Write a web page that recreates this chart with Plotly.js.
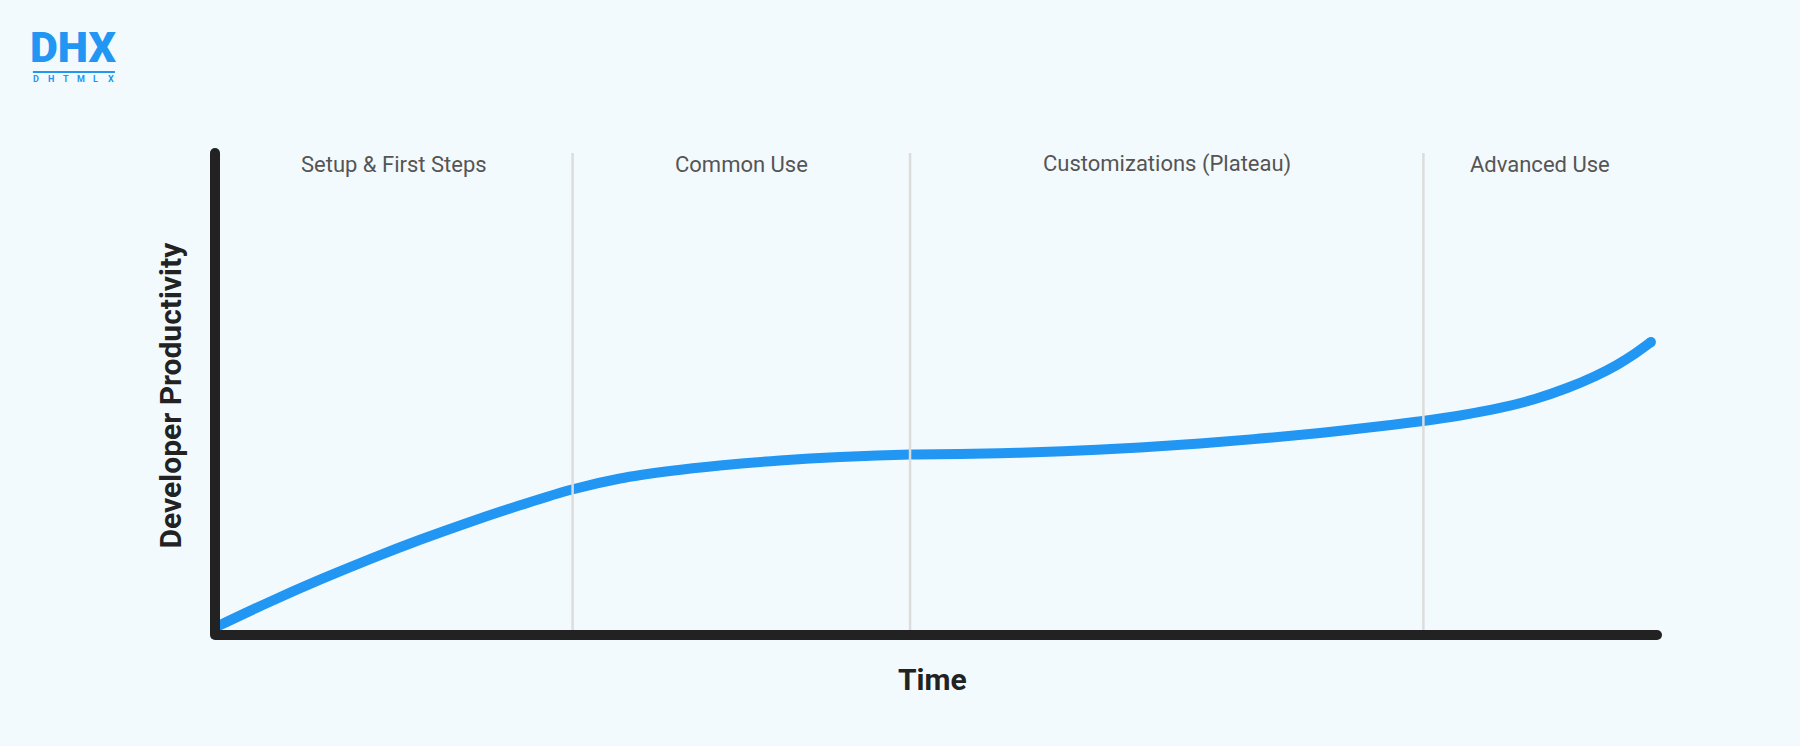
<!DOCTYPE html>
<html>
<head>
<meta charset="utf-8">
<script src="https://cdn.plot.ly/plotly-3.0.1.min.js"></script>
<style>
  html, body { margin: 0; padding: 0; background: #F3FAFE; }
  #chart { width: 1800px; height: 746px; }
</style>
</head>
<body>
<div id="chart"></div>
<script>
// ---- Data ----
const timeX = [0.07, 3.81, 7.28, 10.75, 14.22, 17.68, 21.15, 24.76, 28.09, 31.55, 35.02, 39.18, 43.34, 48.20,
               51.66, 55.83, 59.99, 64.15, 68.31, 72.47, 76.63, 80.79, 83.77, 86.34, 89.11, 91.54, 93.76,
               95.70, 97.23, 98.47, 99.58];
const productivityY = [1.66, 6.91, 11.47, 15.75, 19.75, 23.46, 26.91, 30.19, 32.47, 34.02, 35.17, 36.20, 36.93, 37.45,
                       37.53, 37.82, 38.28, 38.92, 39.73, 40.75, 41.93, 43.30, 44.40, 45.54, 47.10, 48.96, 51.24,
                       53.69, 56.06, 58.38, 60.77];
const stageBounds = [0, 24.8, 48.2, 83.8, 100];
const stageLabels = ["Setup & First Steps", "Common Use", "Customizations (Plateau)", "Advanced Use"];
const axisMax = 100;
const xTitle = "Time";
const yTitle = "Developer Productivity";
const logoText = "DHX";
const logoSub = ["D", "H", "T", "M", "L", "X"];

// ---- Styles ----
const BLUE = "#2196F3";
const AXIS = "#222222";
const DIVIDER = "#DCDCDC";
const BG = "#F3FAFE";

const curve = {
  x: timeX,
  y: productivityY,
  type: "scatter",
  mode: "lines",
  line: { color: BLUE, width: 10, shape: "spline", smoothing: 1 },
  hoverinfo: "skip",
  showlegend: false
};

// Round cap at the curve's end
const curveCap = {
  x: [timeX[timeX.length - 1]],
  y: [productivityY[productivityY.length - 1]],
  type: "scatter",
  mode: "markers",
  marker: { color: BLUE, size: 10, opacity: 1, line: { width: 0 } },
  hoverinfo: "skip",
  showlegend: false
};

// Round caps for the axis lines
const caps = {
  x: [0, axisMax, 0],
  y: [0, 0, axisMax],
  type: "scatter",
  mode: "markers",
  marker: { color: AXIS, size: 10, line: { width: 0 } },
  hoverinfo: "skip",
  showlegend: false,
  cliponaxis: false
};

const shapes = [];
// dividers
stageBounds.slice(1, -1).forEach(b => {
  shapes.push({ type: "line", xref: "x", yref: "paper", x0: b, x1: b, y0: 0, y1: 1,
    line: { color: DIVIDER, width: 2.5 }, layer: "above" });
});
// axes
shapes.push({ type: "line", xref: "paper", yref: "paper", x0: 0, x1: 1, y0: 0, y1: 0,
  line: { color: AXIS, width: 10 }, layer: "above" });
shapes.push({ type: "line", xref: "paper", yref: "paper", x0: 0, x1: 0, y0: 0, y1: 1,
  line: { color: AXIS, width: 10 }, layer: "above" });
// logo underline
shapes.push({ type: "line", xref: "paper", yref: "paper", x0: -0.1263, x1: -0.0694, y0: 1.168, y1: 1.168,
  line: { color: BLUE, width: 2 } });

const annotations = stageLabels.map((t, i) => ({
  text: t,
  x: (stageBounds[i] + stageBounds[i + 1]) / 2,
  xref: "x",
  y: 0.977, yref: "paper",
  xanchor: "center", yanchor: "middle",
  showarrow: false,
  font: { family: "Roboto", size: 22, color: "#555555" }
}));
annotations.push({
  text: xTitle, x: 0.4975, xref: "paper", y: -0.092, yref: "paper",
  xanchor: "center", yanchor: "middle", showarrow: false,
  font: { family: "Roboto", size: 30, color: AXIS, weight: "bold" }
});
annotations.push({
  text: yTitle, x: -0.0312, xref: "paper", y: 0.497, yref: "paper",
  xanchor: "center", yanchor: "middle", showarrow: false, textangle: -90,
  font: { family: "Roboto", size: 30, color: AXIS, weight: "bold" }
});
// logo
annotations.push({
  text: logoText, x: -0.0985, xref: "paper", y: 1.219, yref: "paper",
  xanchor: "center", yanchor: "middle", showarrow: false,
  font: { family: "Roboto", size: 43, color: BLUE, weight: 900 }
});
logoSub.forEach((ch, i) => {
  annotations.push({
    text: ch, x: (36 + i * 15 - 215) / 1442, xref: "paper", y: 1.1535, yref: "paper",
    xanchor: "center", yanchor: "middle", showarrow: false,
    font: { family: "Roboto", size: 9, color: BLUE, weight: "bold" }
  });
});

const layout = {
  width: 1800, height: 746,
  paper_bgcolor: BG, plot_bgcolor: BG,
  margin: { l: 215, r: 143, t: 153, b: 111 },
  xaxis: { range: [0, axisMax], showgrid: false, zeroline: false, showline: false, showticklabels: false, ticks: "", fixedrange: true },
  yaxis: { range: [0, axisMax], showgrid: false, zeroline: false, showline: false, showticklabels: false, ticks: "", fixedrange: true },
  shapes: shapes,
  annotations: annotations,
  showlegend: false
};

Plotly.newPlot("chart", [curve, curveCap, caps], layout, { displayModeBar: false, staticPlot: true });
</script>
</body>
</html>
